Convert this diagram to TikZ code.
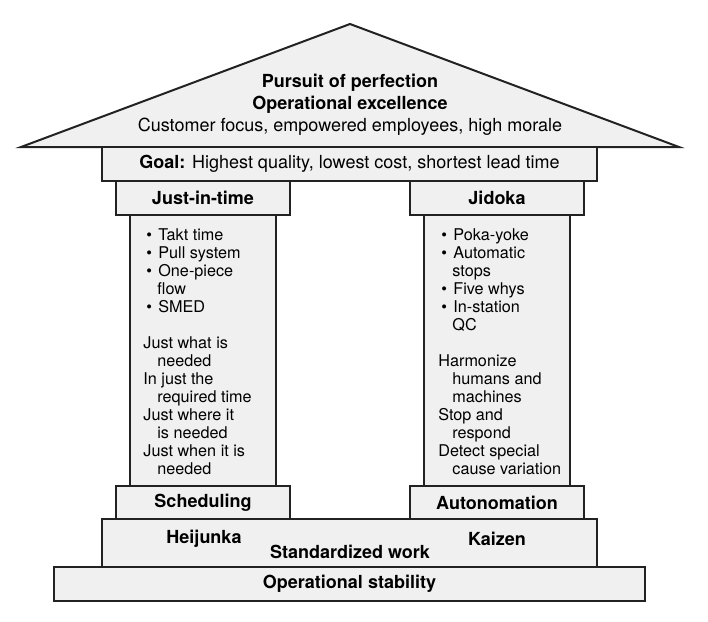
\documentclass[tikz,border=0pt]{standalone}
\usepackage{fontspec}
\setmainfont{TeX Gyre Heros}
\definecolor{slabfill}{HTML}{F0F0F0}
\definecolor{slabline}{HTML}{222222}
\tikzset{
  slab/.style={draw=slabline, fill=slabfill, line width=1pt, inner sep=0pt,
    font=\fontsize{9}{11}\selectfont\bfseries},
  caption/.style={inner sep=0pt, font=\fontsize{9}{11}\selectfont\bfseries},
  listing/.style={anchor=north west, align=left, inner sep=0pt,
    font=\fontsize{8.1}{9}\selectfont}
}
% bullet and hanging indent for the pillar lists
\newcommand{\itm}{\makebox[7.5pt][l]{\hspace{1.5pt}\textbullet}}
\newcommand{\ind}{\hspace*{7pt}}
% slab: name, x1, y1, x2, y2, text
\newcommand{\slab}[6]{
\node[slab, minimum width={(#4-#2)*0.5pt}, minimum height={(#5-#3)*0.5pt}]
  (#1) at ({(#2+#4)/2},{(#3+#5)/2}) {#6};
}
\begin{document}
\begin{tikzpicture}[x=0.5pt,y=-0.5pt]
\useasboundingbox (0,0) rectangle (708,622);

% roof
\draw[slab] (21,147) -- (350,24) -- (679,147) -- cycle;
\node[caption, align=center] (roof) at (350,105)
  {Pursuit of perfection\\Operational excellence\\
   \mdseries Customer focus, empowered employees, high morale};

\slab{goal}{102}{147}{597}{181}{Goal: \mdseries Highest quality, lowest cost, shortest lead time}

% pillars
\slab{jit}{116}{181}{290}{215}{Just-in-time}
\slab{jidoka}{410}{181}{584}{215}{Jidoka}
\slab{jitbody}{130}{215}{276}{486}{}
\slab{jidokabody}{424}{215}{570}{486}{}
\node[listing] (jitlist) at (143,228) {%
\itm Takt time\\
\itm Pull system\\
\itm One-piece\\
\ind flow\\
\itm SMED\\[9pt]
Just what is\\
\ind needed\\
In just the\\
\ind required time\\
Just where it\\
\ind is needed\\
Just when it is\\
\ind needed};
\node[listing] (jidokalist) at (438,228) {%
\itm Poka-yoke\\
\itm Automatic\\
\ind stops\\
\itm Five whys\\
\itm In-station\\
\ind QC\\[9pt]
Harmonize\\
\ind humans and\\
\ind machines\\
Stop and\\
\ind respond\\
Detect special\\
\ind cause variation};
\slab{scheduling}{116}{486}{290}{519}{Scheduling}
\slab{autonomation}{410}{486}{584}{519}{Autonomation}

% foundation
\slab{standard}{102}{519}{597}{567}{}
\node[caption] (heijunka) at (204,539) {Heijunka};
\node[caption] (kaizen) at (497,539) {Kaizen};
\node[caption] (work) at (350,552) {Standardized work};
\slab{stability}{54}{567}{645}{601}{Operational stability}

\end{tikzpicture}
\end{document}
